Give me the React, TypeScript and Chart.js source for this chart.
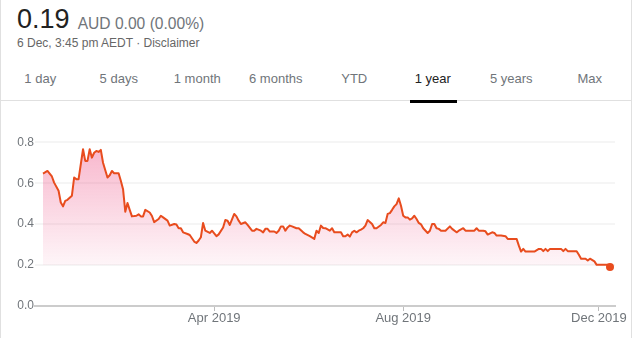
import React, { useEffect, useRef } from 'react';
import { Chart, registerables } from 'chart.js';

Chart.register(...registerables);

// trading-day index since 6 Dec 2018
const tradingDay = [
  0, 2, 4, 5, 7, 8, 9, 10, 11, 13, 14, 15, 16, 18, 19, 20, 21, 22, 23, 24, 25, 26, 27, 29, 30, 31, 32, 34, 35, 36,
  37, 38, 39, 40, 42, 43, 44, 45, 46, 48, 49, 50, 52, 53, 54, 56, 57, 59, 60, 61, 62, 63, 65, 66, 68, 69, 70, 71, 72, 73,
  75, 76, 77, 78, 79, 81, 82, 83, 84, 86, 87, 88, 89, 91, 92, 94, 95, 96, 98, 99, 100, 101, 102, 104, 105, 106, 107, 108, 109, 110,
  111, 112, 114, 115, 117, 118, 120, 122, 123, 124, 125, 126, 127, 129, 130, 131, 134, 135, 136, 137, 138, 139, 140, 141, 142, 143, 144, 145, 146, 148,
  149, 150, 152, 153, 154, 155, 156, 157, 158, 159, 160, 161, 162, 163, 164, 165, 166, 167, 168, 169, 170, 171, 173, 174, 175, 176, 177, 178, 179, 181,
  183, 184, 186, 187, 189, 190, 192, 194, 195, 196, 198, 199, 200, 202, 203, 204, 206, 208, 209, 212, 213, 214, 215, 216, 217, 219, 221, 223, 224, 225,
  226, 227, 228, 230, 232, 233, 234, 235, 236, 238, 240, 241, 242, 244, 245, 246, 248, 249, 252, 254, 255,
];

const price = [
  0.647, 0.66, 0.633, 0.603, 0.563, 0.506, 0.487, 0.514, 0.519, 0.539, 0.628, 0.62, 0.62, 0.766, 0.709, 0.709, 0.766, 0.725, 0.749, 0.758, 0.753, 0.763, 0.70, 0.628, 0.639, 0.66, 0.649, 0.649, 0.612, 0.571,
  0.461, 0.503, 0.47, 0.438, 0.441, 0.448, 0.438, 0.438, 0.47, 0.457, 0.44, 0.41, 0.425, 0.441, 0.433, 0.417, 0.393, 0.401, 0.398, 0.38, 0.38, 0.36, 0.352, 0.347, 0.315, 0.308, 0.32, 0.336, 0.406, 0.368,
  0.357, 0.368, 0.355, 0.341, 0.35, 0.384, 0.42, 0.417, 0.396, 0.45, 0.438, 0.417, 0.401, 0.409, 0.396, 0.368, 0.368, 0.377, 0.368, 0.36, 0.377, 0.377, 0.364, 0.364, 0.357, 0.368, 0.389, 0.389, 0.368, 0.384,
  0.393, 0.389, 0.38, 0.38, 0.36, 0.352, 0.341, 0.328, 0.368, 0.357, 0.393, 0.381, 0.38, 0.368, 0.38, 0.36, 0.36, 0.341, 0.341, 0.349, 0.339, 0.36, 0.368, 0.36, 0.368, 0.373, 0.38, 0.393, 0.42, 0.401,
  0.38, 0.38, 0.396, 0.409, 0.406, 0.45, 0.454, 0.47, 0.487, 0.498, 0.526, 0.49, 0.441, 0.433, 0.433, 0.422, 0.428, 0.441, 0.425, 0.406, 0.399, 0.38, 0.357, 0.368, 0.401, 0.401, 0.38, 0.377, 0.368, 0.368,
  0.389, 0.377, 0.36, 0.368, 0.38, 0.368, 0.368, 0.368, 0.38, 0.368, 0.368, 0.365, 0.349, 0.36, 0.357, 0.344, 0.344, 0.341, 0.328, 0.328, 0.328, 0.295, 0.266, 0.279, 0.266, 0.266, 0.266, 0.279, 0.279, 0.268,
  0.279, 0.268, 0.279, 0.279, 0.279, 0.279, 0.268, 0.279, 0.268, 0.268, 0.268, 0.25, 0.231, 0.231, 0.222, 0.231, 0.218, 0.201, 0.201, 0.201, 0.19,
];

const xTickDays = [77, 162, 250];
const xTickLabels = ['Apr 2019', 'Aug 2019', 'Dec 2019'];
const yTicks = [0, 0.2, 0.4, 0.6, 0.8];

const tabs = ['1 day', '5 days', '1 month', '6 months', 'YTD', '1 year', '5 years', 'Max'];
const selectedTab = '1 year';
const lastPrice = '0.19';
const changeText = 'AUD 0.00 (0.00%)';
const subtitle = '6 Dec, 3:45 pm AEDT · Disclaimer';

const FONT = 'Arial, "Liberation Sans", sans-serif';
const LINE = 'rgb(232, 76, 30)';

export default function App() {
  const canvasRef = useRef<HTMLCanvasElement | null>(null);

  useEffect(() => {
    document.body.style.margin = '0';
    const canvas = canvasRef.current;
    if (!canvas) return;
    const chart = new Chart(canvas, {
      type: 'line',
      data: {
        datasets: [
          {
            data: tradingDay.map((d, i) => ({ x: d, y: price[i] })),
            borderColor: LINE,
            borderWidth: 2,
            tension: 0,
            borderJoinStyle: 'round',
            pointRadius: (ctx: any) => (ctx.dataIndex === price.length - 1 ? 4 : 0),
            pointBackgroundColor: LINE,
            pointBorderWidth: 0,
            fill: { value: 0.2 },
            backgroundColor: (ctx: any) => {
              const c = ctx.chart;
              const area = c.chartArea;
              if (!area) return 'rgba(0,0,0,0)';
              const yb = c.scales.y.getPixelForValue(0.2);
              const g = c.ctx.createLinearGradient(0, area.top, 0, yb);
              g.addColorStop(0, 'rgba(236,64,122,0.45)');
              g.addColorStop(1, 'rgba(236,64,122,0.05)');
              return g;
            },
          },
        ],
      },
      options: {
        responsive: false,
        animation: false,
        layout: { padding: { top: 10, right: 19, left: 0, bottom: 0 } },
        plugins: { legend: { display: false }, tooltip: { enabled: false } },
        scales: {
          x: {
            type: 'linear',
            min: -3.6,
            max: 257.25,
            afterBuildTicks: (scale: any) => {
              scale.ticks = xTickDays.map((v) => ({ value: v }));
            },
            afterFit: (scale: any) => {
              scale.height = 32;
            },
            ticks: {
              autoSkip: false,
              maxRotation: 0,
              padding: 0,
              color: '#70757a',
              font: { family: FONT, size: 13 },
              callback: (v: any) => {
                const i = xTickDays.indexOf(Number(v));
                return i >= 0 ? xTickLabels[i] : '';
              },
            },
            grid: {
              display: true,
              drawOnChartArea: false,
              drawTicks: true,
              tickLength: 5,
              color: '#bdbdbd',
              lineWidth: 1,
            },
            border: { display: true, color: '#cccccc', width: 2 },
          },
          y: {
            type: 'linear',
            min: 0,
            max: 0.909,
            afterBuildTicks: (scale: any) => {
              scale.ticks = yTicks.map((v) => ({ value: v }));
            },
            afterFit: (scale: any) => {
              scale.width = 35;
            },
            ticks: {
              padding: 1,
              color: '#70757a',
              font: { family: FONT, size: 12 },
              callback: (v: any) => Number(v).toFixed(1),
            },
            grid: {
              drawTicks: false,
              lineWidth: 2,
              color: (ctx: any) => (ctx.tick && ctx.tick.value === 0 ? 'rgba(0,0,0,0)' : '#f5f5f5'),
            },
            border: { display: false },
          },
        },
      },
    });
    return () => chart.destroy();
  }, []);

  const abs = (o: React.CSSProperties): React.CSSProperties => ({ position: 'absolute', whiteSpace: 'nowrap', lineHeight: 1, ...o });

  return (
    <div style={{ position: 'relative', width: 634, height: 338, background: '#fff', fontFamily: FONT, overflow: 'hidden' }}>
      <div
        style={{
          position: 'absolute',
          left: 0,
          top: 0,
          width: 632,
          height: 338,
          boxSizing: 'border-box',
          borderLeft: '1px solid #e0e0e0',
          borderRight: '1px solid #e0e0e0',
        }}
      />
      <div style={abs({ left: 17, top: 6.4, fontSize: 27, color: '#222' })}>{lastPrice}</div>
      <div style={abs({ left: 77.7, top: 16.1, fontSize: 15.6, color: '#70757a' })}>{changeText}</div>
      <div style={abs({ left: 17, top: 37.1, fontSize: 12, color: '#666' })}>{subtitle}</div>
      {tabs.map((t, i) => (
        <div
          key={t}
          style={abs({
            left: 1 + i * 78.5,
            width: 78.5,
            top: 72.3,
            fontSize: 13,
            textAlign: 'center',
            color: t === selectedTab ? '#222' : '#70757a',
          })}
        >
          {t}
        </div>
      ))}
      <div style={{ position: 'absolute', left: 1, top: 100, width: 630, height: 1, background: '#e0e0e0' }} />
      <div style={{ position: 'absolute', left: 409.5, top: 100, width: 47, height: 3, background: '#000' }} />
      <canvas
        ref={canvasRef}
        width={634}
        height={228}
        style={{ position: 'absolute', left: 0, top: 110, width: 634, height: 228 }}
      />
    </div>
  );
}
